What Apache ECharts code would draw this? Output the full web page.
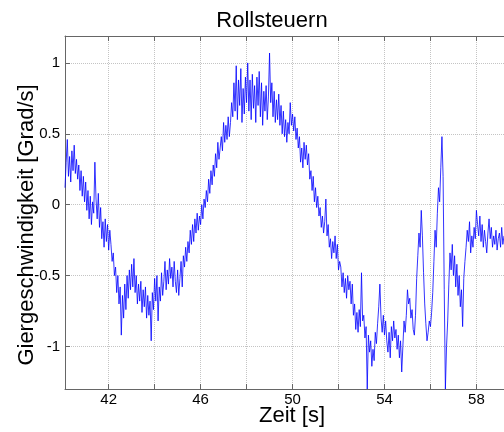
<!DOCTYPE html>
<html>
<head>
<meta charset="utf-8">
<script src="https://cdn.jsdelivr.net/npm/echarts@6/dist/echarts.min.js"></script>
<style>
  html, body { margin: 0; padding: 0; background: #fff; }
  #chart { width: 504px; height: 432px; }
</style>
</head>
<body>
<div id="chart"></div>
<script>
// Abtastung
const tStart = 40.1
const dt = 0.05

// Giergeschwindigkeit [Grad/s] (eine Zeile = 1 s)
const yawRate = [
  0.12, 0.30, 0.46, 0.20, 0.34, 0.16, 0.38, 0.24, 0.42, 0.22, 0.32, 0.18, 0.28, 0.10, 0.24, 0.06, 0.20, 0.02, 0.16, -0.04,
  0.10, -0.10, 0.06, -0.14, 0.02, -0.06, 0.30, 0.04, -0.10, 0.08, -0.16, -0.02, -0.24, -0.12, -0.30, -0.10, -0.26, -0.14, -0.32, -0.18,
  -0.28, -0.40, -0.34, -0.50, -0.44, -0.62, -0.50, -0.70, -0.58, -0.92, -0.64, -0.80, -0.56, -0.74, -0.50, -0.66, -0.46, -0.60, -0.42, -0.58,
  -0.38, -0.62, -0.50, -0.70, -0.56, -0.68, -0.54, -0.76, -0.60, -0.72, -0.58, -0.80, -0.64, -0.78, -0.68, -0.96, -0.62, -0.74, -0.52, -0.68,
  -0.50, -0.82, -0.58, -0.68, -0.48, -0.64, -0.54, -0.40, -0.60, -0.46, -0.56, -0.38, -0.52, -0.44, -0.58, -0.40, -0.54, -0.62, -0.46, -0.64,
  -0.52, -0.40, -0.58, -0.36, -0.44, -0.30, -0.40, -0.26, -0.34, -0.18, -0.28, -0.14, -0.26, -0.10, -0.20, -0.06, -0.18, -0.08, -0.14, 0.00,
  -0.10, 0.04, -0.02, 0.10, 0.02, 0.18, 0.08, 0.24, 0.14, 0.28, 0.20, 0.36, 0.26, 0.44, 0.32, 0.40, 0.48, 0.38, 0.58, 0.44,
  0.56, 0.46, 0.62, 0.48, 0.58, 0.72, 0.62, 0.86, 0.66, 0.98, 0.60, 0.88, 0.70, 0.96, 0.58, 0.82, 0.64, 0.90, 0.72, 1.00,
  0.66, 0.88, 0.60, 0.92, 0.68, 0.84, 0.58, 0.90, 0.70, 0.94, 0.62, 0.86, 0.56, 0.80, 0.66, 0.84, 0.60, 0.76, 1.07, 0.72,
  0.86, 0.62, 0.80, 0.58, 0.74, 0.60, 0.78, 0.56, 0.70, 0.50, 0.66, 0.48, 0.60, 0.44, 0.58, 0.50, 0.72, 0.56, 0.64, 0.52,
  0.62, 0.46, 0.54, 0.40, 0.48, 0.30, 0.40, 0.26, 0.44, 0.32, 0.42, 0.28, 0.36, 0.18, 0.24, 0.10, 0.20, 0.02, 0.12, -0.02,
  0.06, -0.08, -0.02, -0.16, -0.08, -0.20, -0.12, 0.04, -0.22, -0.14, -0.30, -0.24, -0.38, -0.26, -0.34, -0.22, -0.38, -0.28, -0.46, -0.40,
  -0.44, -0.58, -0.48, -0.62, -0.52, -0.66, -0.50, -0.60, -0.54, -0.70, -0.56, -0.78, -0.70, -0.88, -0.76, -0.90, -0.74, -0.86, -0.48, -0.82,
  -0.78, -0.94, -0.86, -1.30, -0.92, -1.04, -0.96, -1.14, -1.02, -1.10, -0.90, -0.98, -0.84, -0.72, -0.56, -0.80, -0.90, -0.78, -0.92, -0.82,
  -0.96, -1.04, -0.90, -1.08, -0.86, -0.96, -0.82, -0.94, -0.88, -1.02, -0.92, -1.08, -0.96, -1.18, -1.00, -0.82, -0.90, -0.78, -0.60, -0.70,
  -0.66, -0.80, -0.74, -0.88, -0.92, -0.78, -0.52, -0.36, -0.20, -0.30, -0.04, -0.22, -0.48, -0.70, -0.84, -0.96, -0.90, -0.82, -0.86, -0.76,
  -0.62, -0.40, -0.18, -0.30, -0.06, 0.12, 0.02, 0.26, 0.48, 0.20, -0.60, -1.30, -1.00, -0.82, -0.56, -0.34, -0.46, -0.28, -0.50, -0.36,
  -0.58, -0.42, -0.64, -0.50, -0.72, -0.60, -0.86, -0.52, -0.40, -0.30, -0.18, -0.26, -0.12, -0.34, -0.22, -0.30, -0.16, -0.24, -0.04, -0.14,
  -0.22, -0.08, -0.26, -0.14, -0.30, -0.18, -0.26, -0.34, -0.20, -0.10, -0.24, -0.16, -0.30, -0.22, -0.28, -0.18, -0.32, -0.24, -0.20, -0.30,
  -0.16, -0.28, -0.22
]

const xTicks = [42, 44, 46, 48, 50, 52, 54, 56, 58]
const xLabels = [42, 46, 50, 54, 58]
const yTicks = [-1, -0.5, 0, 0.5, 1]

const font = '"Liberation Sans", Arial, Helvetica, sans-serif'
const axisGrey = '#666'
const gridGrey = '#c4c4c4'

const points = yawRate.map((v, i) => [+(tStart + i * dt).toFixed(2), v])

const chart = echarts.init(document.getElementById('chart'))

const xBase = {
  type: 'value',
  min: 40.1,
  max: 59.2,
  axisLine: { show: true, onZero: false, lineStyle: { color: axisGrey, width: 1 } },
  axisTick: { show: true, inside: true, length: 5, customValues: xTicks, lineStyle: { color: axisGrey } },
}

chart.setOption({
  animation: false,
  grid: { left: 65, right: -6, top: 36, bottom: 43, containLabel: false },
  xAxis: [
    {
      ...xBase,
      position: 'bottom',
      axisLabel: { customValues: xLabels, color: '#000', fontSize: 15, fontFamily: font, margin: 3 },
      splitLine: { show: true, lineStyle: { color: gridGrey, type: 'dotted', width: 1 } },
    },
    {
      ...xBase,
      position: 'top',
      axisLabel: { show: false },
      splitLine: { show: false },
    },
  ],
  yAxis: {
    type: 'value',
    min: -1.3,
    max: 1.19,
    axisLine: { show: true, onZero: false, lineStyle: { color: axisGrey, width: 1 } },
    axisTick: { show: true, inside: true, length: 5, customValues: yTicks, lineStyle: { color: axisGrey } },
    axisLabel: { customValues: yTicks, color: '#000', fontSize: 15, fontFamily: font, margin: 5 },
    splitLine: { show: true, lineStyle: { color: gridGrey, type: 'dotted', width: 1 } },
  },
  graphic: [
    {
      type: 'text', silent: true,
      x: 272, y: 21,
      style: { text: 'Rollsteuern', font: '22px ' + font, fill: '#000', align: 'center', verticalAlign: 'middle' },
    },
    {
      type: 'text', silent: true,
      x: 292, y: 416,
      style: { text: 'Zeit [s]', font: '22px ' + font, fill: '#000', align: 'center', verticalAlign: 'middle' },
    },
    {
      type: 'text', silent: true,
      x: 27, y: 225, rotation: Math.PI / 2,
      style: { text: 'Giergeschwindigkeit [Grad/s]', font: '22px ' + font, fill: '#000', align: 'center', verticalAlign: 'middle' },
    },
  ],
  series: [
    {
      type: 'line',
      xAxisIndex: 0,
      data: points,
      symbol: 'none',
      sampling: false,
      lineStyle: { color: '#0000ff', width: 0.8 },
    },
  ],
})
</script>
</body>
</html>
